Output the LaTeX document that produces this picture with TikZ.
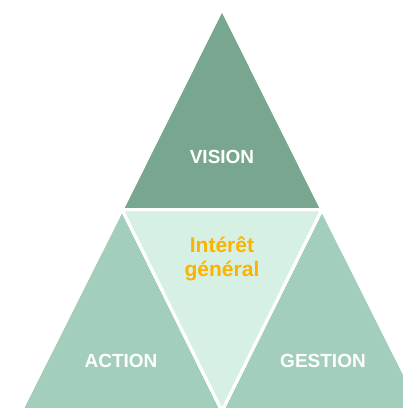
\documentclass[tikz,border=0pt]{standalone}
\usepackage{fontspec}
\setmainfont{Liberation Sans}
\definecolor{darkgreen}{HTML}{78A691}
\definecolor{midgreen}{HTML}{A2CEBB}
\definecolor{lightgreen}{HTML}{D6F0E4}
\definecolor{gold}{HTML}{FAB400}
\begin{document}
\begin{tikzpicture}[x=1pt,y=-1pt,
        part/.style={draw=white,line width=3pt,line join=miter},
        lbl/.style={font=\bfseries\fontsize{19}{22}\selectfont,text=white}]
    \useasboundingbox (0,0) rectangle (403,408);
    \clip (0,0) rectangle (403,408);
	\coordinate (top) at (222,9);
    \coordinate (ml) at (122,209.5);
    \coordinate (mr) at (322,209.5);
    \coordinate (bl) at (21,411);
    \coordinate (bm) at (222,411);
    \coordinate (br) at (423,411);

\fill[part,fill=darkgreen] (top) -- (ml) -- (mr) -- cycle;
\fill[part,fill=midgreen] (ml) -- (bl) -- (bm) -- cycle;
\fill[part,fill=midgreen] (mr) -- (bm) -- (br) -- cycle;
\draw[part,fill=lightgreen] (ml) -- (mr) -- (bm) -- cycle;
\draw[part] (top) -- (ml) -- (mr) -- cycle;
\draw[part] (ml) -- (bl) -- (bm) -- cycle;
\draw[part] (mr) -- (bm) -- (br) -- cycle;

\node[lbl] (vision) at (222,157) {VISION};
\node[lbl] (action) at (121,361) {ACTION};
\node[lbl] (gestion) at (323,361) {GESTION};
\node[lbl,text=gold,align=center,font=\bfseries\fontsize{21}{24}\selectfont] (interet) at (222,259) {Intérêt\\général};

\end{tikzpicture}
\end{document}
